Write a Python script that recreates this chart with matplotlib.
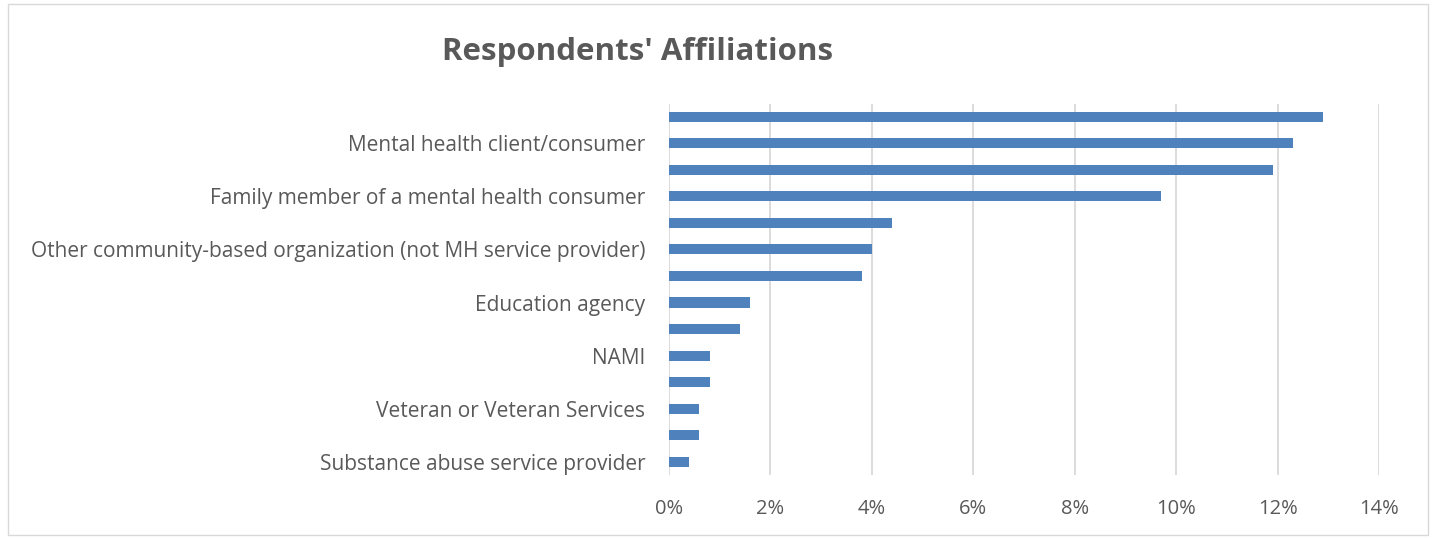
import matplotlib.pyplot as plt
from matplotlib.patches import Rectangle
from matplotlib.ticker import FuncFormatter

# affiliations, top to bottom; only every other category gets a visible label
labels = [
    "",
    "Mental health client/consumer",
    "",
    "Family member of a mental health consumer",
    "",
    "Other community-based organization (not MH service provider)",
    "",
    "Education agency",
    "",
    "NAMI",
    "",
    "Veteran or Veteran Services",
    "",
    "Substance abuse service provider",
]
share = [12.9, 12.3, 11.9, 9.7, 4.4, 4.0, 3.8, 1.6, 1.4, 0.8, 0.8, 0.6, 0.6, 0.4]

plt.rcParams['font.family'] = ['Open Sans', 'DejaVu Sans']
text_col = "#595959"

fig = plt.figure(figsize=(14.34, 5.39), dpi=100)
ax = fig.add_axes([669/1434, 1 - 475/539, (1379 - 669)/1434, (475 - 103.5)/539])

pos = list(range(len(share)))
ax.barh(pos, share, height=0.38, color="#4F81BD", zorder=3)

ax.set_ylim(len(share) - 0.5, -0.5)
ax.set_xlim(0, 14)
ax.set_xticks(range(0, 15, 2))
ax.xaxis.set_major_formatter(FuncFormatter(lambda v, p: f"{v:.0f}%"))
ax.set_yticks(pos)
ax.set_yticklabels(labels)

ax.grid(axis="x", color="#D9D9D9", linewidth=1.3, zorder=0)
for s in ax.spines.values():
    s.set_visible(False)
ax.tick_params(axis="both", length=0, labelcolor=text_col)
ax.tick_params(axis="x", pad=17, labelsize=14.5)
ax.tick_params(axis="y", pad=17, labelsize=15)

fig.text(638/1434, 1 - 52/539, "Respondents' Affiliations", ha="center", va="center",
         fontsize=22.5, fontweight="bold", color=text_col)

# chart area border
fig.patches.append(Rectangle((8/1434, 4/539), 1420/1434, 531/539, transform=fig.transFigure,
                             fill=False, edgecolor="#D9D9D9", linewidth=1))

fig.savefig("out.png", dpi=100)
